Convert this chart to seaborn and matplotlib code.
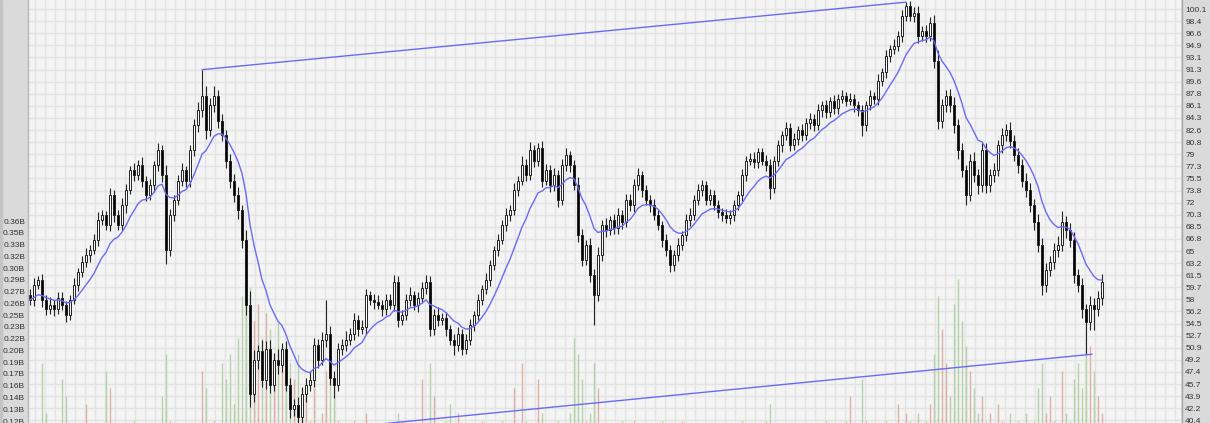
import numpy as np
import pandas as pd
import matplotlib
matplotlib.use("Agg")
import matplotlib.pyplot as plt
from matplotlib.patches import Rectangle
import seaborn as sns

# daily closes (left to right)
closes = [
    57.9, 60.1, 60.8, 57.9, 56.5, 57.2, 56.5, 58.2, 57.2, 55.7,
    57.9, 60.1, 61.9, 63.4, 64.4, 65.1, 66.6, 69.5, 70.2, 68.8,
    73.1, 70.2, 68.8, 71.6, 73.8, 76.7, 76.0, 77.4, 75.2, 73.1,
    74.5, 77.4, 79.6, 76.0, 65.1, 70.2, 72.4, 75.2, 76.7, 75.2,
    79.6, 83.2, 85.4, 87.5, 82.5, 86.1, 87.5, 83.9, 81.8, 78.1,
    75.2, 73.1, 70.9, 66.6, 57.2, 44.2, 49.2, 50.4, 46.3, 50.7,
    45.6, 49.2, 48.5, 50.7, 45.6, 42.0, 42.7, 40.9, 44.2, 45.6,
    46.3, 51.4, 49.2, 52.1, 52.9, 46.6, 45.6, 50.7, 51.4, 52.1,
    52.9, 55.0, 53.6, 53.9, 58.6, 57.9, 57.6, 57.2, 56.5, 57.9,
    57.2, 60.5, 55.0, 55.7, 57.9, 58.6, 57.2, 58.2, 59.6, 60.5,
    53.6, 55.7, 55.0, 55.3, 53.6, 52.1, 51.4, 52.9, 50.7, 52.1,
    54.3, 55.7, 57.9, 59.4, 60.8, 62.9, 65.1, 66.6, 68.8, 70.2,
    70.9, 73.8, 75.2, 77.4, 76.0, 79.6, 78.1, 79.9, 75.2, 76.7,
    74.5, 76.0, 72.4, 77.4, 78.9, 77.4, 74.5, 67.3, 63.7, 65.9,
    61.5, 58.6, 64.4, 68.8, 68.0, 69.5, 68.3, 70.2, 69.2, 72.4,
    71.6, 74.5, 76.0, 73.8, 72.4, 71.6, 70.2, 68.8, 66.6, 65.1,
    62.9, 64.4, 65.9, 67.3, 69.5, 70.2, 72.4, 73.8, 74.5, 72.4,
    73.1, 71.6, 70.6, 70.2, 69.8, 70.2, 71.6, 73.1, 76.0, 78.1,
    78.4, 77.9, 79.3, 78.1, 77.4, 74.1, 78.1, 80.3, 81.8, 82.8,
    80.3, 81.3, 82.5, 81.8, 83.6, 84.2, 83.2, 85.4, 86.1, 85.1,
    86.8, 85.7, 87.1, 87.5, 86.8, 87.1, 86.1, 85.4, 83.2, 86.1,
    87.5, 87.1, 89.7, 90.9, 93.3, 94.3, 94.8, 96.2, 99.1, 100.5,
    99.1, 99.5, 96.2, 96.9, 96.2, 98.1, 92.6, 83.9, 86.1, 87.5,
    86.1, 83.2, 79.6, 76.7, 73.1, 78.1, 76.0, 74.5, 79.6, 74.5,
    76.0, 76.7, 80.3, 81.8, 82.5, 81.0, 78.9, 77.4, 75.2, 73.8,
    71.6, 69.2, 65.9, 60.1, 62.2, 63.4, 65.1, 65.9, 69.2, 68.0,
    66.6, 61.5, 60.1, 56.5, 54.7, 57.2, 56.5, 58.2, 60.5,
]
first_open = 58.6

up_wick = [
    .8, 1.0, .6, .9, .7, 1.1, .6, .8, .9, .5,
    .7, .9, .6, .8, 1.0, .7, .9, 1.2, .8, .6,
    1.0, .8, .7, 1.1, .9, .6, 1.0, .8, 1.2, .7,
    .9, .6, 1.0, .8, 1.5, .9, .7, .8, 1.1, .6,
    .8, 1.0, 1.2, 3.8, 1.4, 1.1, 1.5, .9, 1.0, .8,
    1.0, .9, 1.2, .8, 1.5, 2.0, 1.4, 1.0, 1.6, 1.2,
    1.3, 1.0, 1.5, .9, 1.2, 1.0, .8, 1.1, 1.0, .9,
    1.2, 1.0, .8, 1.1, 5.0, 1.2, .9, 1.0, .8, 1.2,
    .9, 1.0, .7, 1.1, .8, .6, .9, 1.0, .7, .8,
    .9, 1.0, .8, .7, .9, 1.2, .6, .8, .9, 1.0,
    .8, .9, 1.1, .7, .9, .6, .8, 1.0, .7, .9,
    .8, .6, .9, .7, 1.0, .8, .6, .9, .7, 1.0,
    .8, 1.0, .7, 1.4, .9, 1.2, .8, .7, 1.1, .9,
    .8, 1.0, .7, .9, 1.1, .6, .8, 1.2, .9, .7,
    1.0, .8, 1.1, .7, .9, .6, .8, 1.0, .7, .9,
    .8, .9, 1.0, .6, .8, .7, .9, .8, .6, .9,
    .8, .7, .9, .6, .8, 1.0, .7, .9, .8, .6,
    .9, .7, .8, .6, .9, .7, .8, .6, .9, .7,
    .8, .9, .7, .6, .8, .9, .7, .8, .6, .9,
    .7, .8, .6, .9, .7, .8, .6, .9, .7, .8,
    .6, .8, .7, .9, .6, .8, .7, .6, .8, .7,
    .8, .6, .9, .7, .8, .6, .9, .7, .8, .6,
    .8, .9, 1.0, .7, .9, .8, 1.2, 1.5, 1.0, .9,
    1.0, 1.2, .9, 1.1, .8, 1.0, 1.2, .9, 1.1, 1.0,
    .9, 1.1, .8, 1.0, .9, 1.2, .8, 1.0, .9, 1.1,
    1.0, .9, 1.2, 1.0, 1.1, .9, 1.0, 1.2, 1.6, .9,
    1.0, 1.1, .9, 1.0, .8, 1.2, .9, 1.0, 1.1,
]
lo_wick = [
    .7, .9, .6, 1.0, .8, .7, .9, .6, .8, 1.0,
    .8, .6, .9, .7, .8, 1.0, .6, .9, .7, .8,
    .9, 1.0, .7, .8, 1.1, .6, .9, .7, 1.0, .8,
    .7, .9, .8, 1.0, 2.0, .8, .9, .7, .8, 1.0,
    .9, .8, 1.0, .9, 1.2, .8, 1.0, 1.1, .9, 1.0,
    1.1, 1.0, 1.3, 1.2, 1.5, 1.8, 1.2, 1.4, 1.0, 1.3,
    1.2, 1.0, 1.4, 1.1, 1.0, 1.3, .9, 1.2, 1.0, 1.1,
    .9, 1.0, 1.2, .8, 1.0, 1.1, 2.0, .9, .8, 1.0,
    .8, .9, 1.0, .7, .9, .8, 1.0, .7, .9, .8,
    .7, .9, 1.0, .8, .7, .9, .8, 1.0, .7, .9,
    1.0, .8, .9, .7, 1.0, .8, 1.5, .9, .8, .7,
    .8, .9, .7, .8, .6, .9, .7, .8, .6, .9,
    .8, .7, .9, .6, .8, .7, .9, .8, 1.0, .7,
    .9, .8, 1.0, .7, .8, .9, .7, 1.0, .9, .8,
    1.0, 4.3, .9, .8, 1.0, .7, .9, .8, 1.0, .7,
    .8, .9, .7, 1.0, .8, .9, .7, .8, 1.0, .9,
    1.0, .8, .9, .7, .8, .9, .7, .8, .9, .8,
    .8, .7, .9, .8, .7, .9, .8, .7, .9, .8,
    .7, .8, .9, .7, .8, 1.5, .7, .8, .9, .7,
    .8, .7, .9, .8, .7, .9, .8, .7, .9, .8,
    .7, .8, .9, .7, .8, .7, .9, .8, 1.5, .8,
    .7, .8, .9, .7, .8, .9, .7, .8, .9, .7,
    .8, .9, 1.0, .8, .9, .8, 1.0, 1.2, 1.0, .9,
    1.0, 1.1, 1.2, 1.0, 1.4, .9, 1.0, 1.2, 1.0, 1.1,
    .9, 1.0, .8, 1.1, .9, 1.0, .8, 1.1, .9, 1.0,
    1.0, 1.2, 1.1, 1.5, 1.0, .9, 1.1, 1.0, .9, 1.2,
    1.0, 1.2, 1.1, 1.3, 4.7, 1.2, 3.0, 1.0, 1.1,
]

# volume in billions
volumes = [
    .10, .09, .11, .19, .13, .08, .10, .09, .17, .15,
    .09, .10, .08, .11, .14, .09, .10, .08, .11, .18,
    .16, .10, .09, .11, .08, .10, .12, .09, .11, .10,
    .09, .11, .10, .15, .20, .12, .10, .09, .11, .10,
    .10, .09, .11, .18, .16, .10, .12, .11, .19, .17,
    .20, .14, .22, .27, .30, .28, .24, .26, .22, .25,
    .23, .20, .24, .18, .21, .19, .17, .20, .16, .15,
    .12, .16, .11, .13, .18, .17, .15, .12, .10, .11,
    .10, .12, .09, .11, .13, .10, .09, .11, .10, .08,
    .09, .11, .13, .10, .09, .08, .10, .11, .17, .09,
    .19, .15, .10, .11, .12, .14, .10, .13, .11, .09,
    .10, .09, .11, .12, .10, .11, .09, .10, .12, .11,
    .10, .16, .11, .19, .12, .10, .11, .17, .13, .10,
    .11, .09, .12, .10, .11, .13, .22, .20, .17, .12,
    .13, .19, .16, .11, .10, .09, .11, .10, .12, .09,
    .10, .12, .09, .11, .10, .08, .11, .10, .12, .09,
    .11, .10, .09, .12, .10, .11, .09, .10, .08, .11,
    .09, .10, .11, .08, .10, .09, .11, .10, .12, .09,
    .10, .09, .11, .10, .12, .14, .10, .09, .11, .10,
    .09, .10, .08, .11, .10, .09, .11, .10, .09, .12,
    .10, .11, .09, .10, .12, .15, .10, .11, .17, .12,
    .10, .09, .11, .10, .12, .11, .10, .14, .11, .13,
    .12, .11, .13, .10, .12, .14, .20, .27, .23, .19,
    .15, .26, .29, .24, .21, .18, .16, .13, .15, .12,
    .13, .11, .14, .12, .10, .13, .11, .12, .10, .13,
    .11, .12, .16, .19, .13, .15, .12, .11, .18, .13,
    .12, .17, .19, .16, .20, .21, .18, .15, .13,
]

# trend channel anchors (bar index, price)
top_line = [(43, 91.3), (219, 101.1)]
bottom_line = [(67, 38.7), (265.5, 50.0)]

price_labels = ["100.1", "98.4", "96.6", "94.9", "93.1", "91.3", "89.6", "87.8",
                "86.1", "84.3", "82.6", "80.8", "79", "77.3", "75.5", "73.8", "72",
                "70.3", "68.5", "66.8", "65", "63.2", "61.5", "59.7", "58", "56.2",
                "54.5", "52.7", "50.9", "49.2", "47.4", "45.7", "43.9", "42.2", "40.4"]
vol_labels = ["0.36B", "0.35B", "0.33B", "0.32B", "0.30B", "0.29B", "0.27B", "0.26B",
              "0.25B", "0.23B", "0.22B", "0.20B", "0.19B", "0.17B", "0.16B", "0.14B",
              "0.13B", "0.12B"]

sns.set_style("white")
plt.rcParams["font.family"] = ["Liberation Sans", "DejaVu Sans"]

W, H = 1210, 423
fig = plt.figure(figsize=(W / 100, H / 100), dpi=100)
fig.patch.set_facecolor("#f4f4f4")

# grey side panels
fig.add_artist(Rectangle((0, 0), 27 / W, 1, transform=fig.transFigure, color="#dadada", zorder=0))
fig.add_artist(Rectangle((0, 0), 2 / W, 1, transform=fig.transFigure, color="#c4c4c4", zorder=0))
fig.add_artist(Rectangle((1181 / W, 0), 29 / W, 1, transform=fig.transFigure, color="#dadada", zorder=0))

ax_v = fig.add_axes([28 / W, 0, 1153 / W, 1])
ax_v.set_facecolor("#f4f4f4")
ax_p = ax_v.twinx()

n = len(closes)
x = np.arange(n)
c = np.array(closes)
o = np.array([first_open] + closes[:-1])
hi = np.maximum(o, c) + np.array(up_wick)
lo = np.minimum(o, c) - np.array(lo_wick)
rising = c >= o

ax_v.set_xlim(-0.5, 287.75)

# price scale
p_ticks = np.linspace(100.1, 40.4, len(price_labels))
p_lo, p_hi = 40.02, 101.41
ax_p.set_ylim(p_lo, p_hi)

# volume scale
v_ticks = np.linspace(0.36, 0.12, len(vol_labels))
ax_v.set_ylim(0.1176, 0.6252)

# grid
frac = (p_ticks - p_lo) / (p_hi - p_lo)
ax_v.hlines(frac, 0, 1, transform=ax_v.transAxes, color="#e3e3e3", lw=1, zorder=0)
ax_v.vlines(np.arange(1.25, 288, 2.5), 0, 1, transform=ax_v.get_xaxis_transform(),
            color="#e3e3e3", lw=1, zorder=0)

# volume bars
vol_colors = np.where(rising, "#dbb2a6", "#b4d2a8")
ax_v.vlines(x, 0, volumes, colors=vol_colors, lw=1, zorder=1)

# candles
ax_p.vlines(x, lo, hi, color="#222222", lw=0.8, zorder=2)
body = np.maximum(np.abs(c - o), 0.15)
ax_p.bar(x, body, bottom=np.minimum(o, c), width=0.7,
         color=np.where(rising, "white", "black"), edgecolor="#222222", lw=0.7, zorder=3)

# moving average
ma = pd.Series(c).ewm(span=12, adjust=False).mean()
sns.lineplot(x=x, y=ma.values, ax=ax_p, color="#6b6bf2", lw=1, zorder=4)

# trend channel
for line in (top_line, bottom_line):
    ax_p.plot([line[0][0], line[1][0]], [line[0][1], line[1][1]], color="#6b6bf2", lw=1, zorder=4)

ax_p.set_yticks(p_ticks)
ax_p.set_yticklabels(price_labels)
ax_p.tick_params(axis="y", length=0, pad=3, labelsize=6, colors="#333333")
ax_v.set_yticks(v_ticks)
ax_v.set_yticklabels(vol_labels)
ax_v.tick_params(axis="y", length=0, pad=2, labelsize=6, colors="#333333")
ax_v.set_xticks([])
for a in (ax_v, ax_p):
    for s in a.spines.values():
        s.set_visible(False)
    a.set_xlabel("")
    a.set_ylabel("")

fig.add_artist(plt.Line2D([27.5 / W] * 2, [0, 1], transform=fig.transFigure, color="#b8b8b8", lw=1))
fig.add_artist(plt.Line2D([1181.5 / W] * 2, [0, 1], transform=fig.transFigure, color="#a8a8a8", lw=1))

fig.savefig("out.png", dpi=100, facecolor=fig.get_facecolor())
